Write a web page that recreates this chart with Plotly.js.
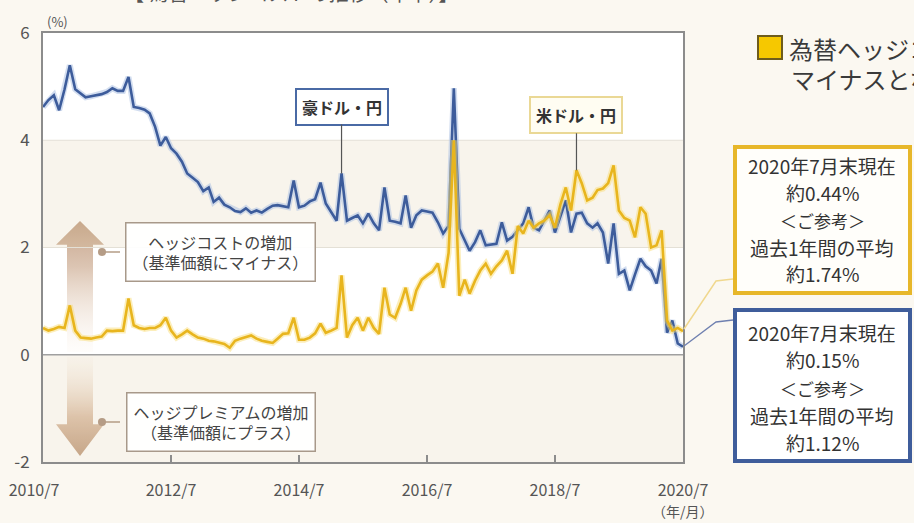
<!DOCTYPE html>
<html>
<head>
<meta charset="utf-8">
<script src="https://cdn.plot.ly/plotly-3.0.1.min.js"></script>
<style>html,body{margin:0;padding:0;background:#fbf8f1;}#chart{width:914px;height:523px;}</style>
</head>
<body>
<div id="chart"></div>
<script>
// ---- data (monthly, 2010/7 - 2020/7, % annualised hedge cost) ----
const startYear = 2010, startMonth = 7, nMonths = 121;
const audJpy = [
4.62,4.75,4.84,4.56,4.95,5.40,4.95,4.88,4.80,4.82,
4.84,4.86,4.90,4.97,4.92,4.92,5.18,4.62,4.60,4.57,
4.50,4.25,3.90,4.06,3.85,3.75,3.60,3.38,3.30,3.22,
3.05,3.12,2.85,2.93,2.80,2.75,2.68,2.66,2.73,2.65,
2.69,2.65,2.72,2.78,2.79,2.77,2.75,3.25,2.75,2.78,
2.86,2.90,3.21,2.82,2.65,2.50,3.38,2.50,2.55,2.60,
2.45,2.63,2.45,2.32,3.12,2.50,2.48,2.45,2.97,2.37,
2.60,2.69,2.67,2.65,2.47,2.26,2.40,4.97,2.35,2.13,
1.94,2.10,2.32,2.04,2.05,2.07,2.47,2.13,2.20,2.32,
2.45,2.75,2.37,2.32,2.50,2.69,2.28,2.60,2.88,2.28,
2.63,2.65,2.45,2.37,2.45,2.28,1.70,2.45,1.51,1.57,
1.20,1.50,1.79,1.65,1.57,1.33,1.79,0.41,0.64,0.21,
0.15];
const usdJpy = [
0.50,0.45,0.48,0.52,0.50,0.92,0.45,0.32,0.31,0.30,
0.32,0.34,0.45,0.44,0.45,0.45,1.05,0.55,0.50,0.48,
0.50,0.50,0.55,0.69,0.45,0.32,0.38,0.45,0.38,0.32,
0.30,0.26,0.25,0.22,0.20,0.13,0.26,0.30,0.33,0.36,
0.30,0.26,0.24,0.22,0.30,0.39,0.40,0.69,0.28,0.28,
0.32,0.40,0.58,0.41,0.45,0.50,1.48,0.32,0.55,0.69,
0.45,0.69,0.50,0.39,1.25,0.75,0.69,0.95,1.25,0.82,
1.20,1.40,1.48,1.55,1.70,1.25,1.90,4.00,1.10,1.40,
1.14,1.38,1.57,1.70,1.51,1.65,1.76,1.94,1.51,2.40,
2.26,2.50,2.37,2.45,2.50,2.60,2.37,2.80,3.12,2.69,
3.44,3.20,2.88,2.93,3.07,3.10,3.20,3.53,2.69,2.55,
2.50,2.19,2.75,2.63,2.00,2.04,2.32,0.64,0.45,0.50,
0.44];
const xTickVals = ['2010-07-01','2012-07-01','2014-07-01','2016-07-01','2018-07-01','2020-07-01'];
const xTickText = ['2010/7\u00a0\u00a0\u00a0\u00a0\u00a0','2012/7','2014/7','2016/7','2018/7','2020/7'];
const yTickVals = [-2,0,2,4,6];
const yTickText = ['-2','0','2','4','6'];
const seriesNames = ['豪ドル・円','米ドル・円'];

// month axis categories
const months = [];
for (let i = 0; i < nMonths; i++) {
  const t = startMonth - 1 + i;
  const y = startYear + Math.floor(t / 12);
  const m = (t % 12) + 1;
  months.push(y + '-' + String(m).padStart(2,'0') + '-01');
}

const FONT = "'Noto Sans CJK JP','Noto Sans',sans-serif";
const BLUE = '#3d5c9b', YEL = '#e8b51e';

const traces = [
  {x: months, y: audJpy, mode:'lines', line:{color:'rgba(175,195,228,0.55)', width:6}, hoverinfo:'skip', showlegend:false},
  {x: months, y: audJpy, mode:'lines', name: seriesNames[0], line:{color:BLUE, width:2.6}, showlegend:false},
  {x: months, y: usdJpy, mode:'lines', line:{color:'rgba(250,222,120,0.5)', width:6}, hoverinfo:'skip', showlegend:false},
  {x: months, y: usdJpy, mode:'lines', name: seriesNames[1], line:{color:YEL, width:2.6}, showlegend:false}
];

// pixel -> paper helpers (plot area 43..683 x 33..462)
const L=43, R=683, T=33, B=462;
const px = v => (v - L) / (R - L);
const py = v => (B - v) / (B - T);

function svgUri(s){ return 'data:image/svg+xml;charset=utf-8,' + encodeURIComponent(s); }
const upArrow = svgUri('<svg xmlns="http://www.w3.org/2000/svg" width="50" height="132" viewBox="0 0 50 132" preserveAspectRatio="none"><defs><linearGradient id="g" x1="0" y1="0" x2="0" y2="1"><stop offset="0" stop-color="#c6a58c"/><stop offset="0.35" stop-color="#dcc5b3"/><stop offset="1" stop-color="#fbf4ec" stop-opacity="0.2"/></linearGradient></defs><polygon points="25,0 49,24 38,24 38,132 12,132 12,24 1,24" fill="url(#g)"/></svg>');
const downArrow = svgUri('<svg xmlns="http://www.w3.org/2000/svg" width="50" height="100" viewBox="0 0 50 100" preserveAspectRatio="none"><defs><linearGradient id="g" x1="0" y1="0" x2="0" y2="1"><stop offset="0" stop-color="#fbf4ec" stop-opacity="0.2"/><stop offset="0.6" stop-color="#dfc5b0"/><stop offset="1" stop-color="#c4a288"/></linearGradient></defs><polygon points="12,0 38,0 38,68 49,68 25,100 1,68 12,68" fill="url(#g)"/></svg>');

const BAND = 'rgba(215,190,140,0.17)';
const shapes = [
  // bands (translucent so the arrows beneath show through)
  {type:'rect', xref:'paper', yref:'y', x0:0, x1:1, y0:2, y1:4, fillcolor:BAND, line:{width:0}, layer:'below'},
  {type:'rect', xref:'paper', yref:'y', x0:0, x1:1, y0:-2, y1:0, fillcolor:BAND, line:{width:0}, layer:'below'},
  {type:'line', xref:'paper', yref:'y', x0:0, x1:1, y0:4, y1:4, line:{color:'#e4e0d6', width:1}, layer:'below'},
  {type:'line', xref:'paper', yref:'y', x0:0, x1:1, y0:2, y1:2, line:{color:'#e4e0d6', width:1}, layer:'below'},
  {type:'line', xref:'paper', yref:'y', x0:0, x1:1, y0:0, y1:0, line:{color:'#a0a0a0', width:1.3}, layer:'below'},
  // dots for explanation boxes
  {type:'circle', xref:'paper', yref:'paper', x0:px(98), x1:px(106), y0:py(256), y1:py(248), fillcolor:'#b59c86', line:{width:0}},
  {type:'line', xref:'paper', yref:'paper', x0:px(104), x1:px(120), y0:py(252), y1:py(252), line:{color:'#b59c86', width:1.5}},
  {type:'circle', xref:'paper', yref:'paper', x0:px(98), x1:px(106), y0:py(426), y1:py(418), fillcolor:'#b59c86', line:{width:0}},
  {type:'line', xref:'paper', yref:'paper', x0:px(104), x1:px(120), y0:py(422), y1:py(422), line:{color:'#b59c86', width:1.5}},
  // right legend square
  {type:'rect', xref:'paper', yref:'paper', x0:px(758), x1:px(782), y0:py(59), y1:py(36), fillcolor:'#f6c800', line:{color:'#6e5c1c', width:2}},
  // right info boxes
  {type:'rect', xref:'paper', yref:'paper', x0:px(735), x1:px(910), y0:py(293), y1:py(147), fillcolor:'#fffefa', line:{color:'#e7b72a', width:4}},
  {type:'rect', xref:'paper', yref:'paper', x0:px(735), x1:px(910), y0:py(461), y1:py(310), fillcolor:'#ffffff', line:{color:'#3f5d9b', width:4}},
  // connectors
  {type:'path', xref:'paper', yref:'paper', path:`M ${px(684)} ${py(329)} L ${px(716)} ${py(281)} L ${px(733)} ${py(279)}`, line:{color:'#f0d88e', width:1.5}},
  {type:'path', xref:'paper', yref:'paper', path:`M ${px(684)} ${py(346)} L ${px(716)} ${py(322)} L ${px(733)} ${py(320)}`, line:{color:'#6f80b0', width:1.3}}
];

const txt = (text, x, y, size, opts) => Object.assign({text, xref:'paper', yref:'paper', x, y, xanchor:'center', yanchor:'middle', showarrow:false, font:{family:FONT, size, color:'#333'}}, opts||{});

const annotations = [
  txt('【 為替ヘッジコストの推移（年率）】', px(122), py(9), 20, {xanchor:'left', yanchor:'bottom', font:{family:FONT,size:20,color:'#555'}}),
  txt('(%)', px(57), py(21), 13, {font:{family:FONT,size:13,color:'#555'}}),
  txt('（年/月）', 1, py(511), 14, {font:{family:FONT,size:14,color:'#555'}}),
  txt('為替ヘッジコストが', px(787), py(48), 24, {xanchor:'left', font:{family:FONT,size:24,color:'#3a3a3a'}}),
  txt('マイナスとなっています', px(789), py(78), 24, {xanchor:'left', font:{family:FONT,size:24,color:'#3a3a3a'}}),
  // yellow box text
  txt('2020年7月末現在', px(822), py(165), 19),
  txt('約0.44%', px(822), py(192), 19),
  txt('＜ご参考＞', px(822), py(220), 17),
  txt('過去1年間の平均', px(822), py(247), 19),
  txt('約1.74%', px(822), py(273), 19),
  // blue box text
  txt('2020年7月末現在', px(822), py(332), 19),
  txt('約0.15%', px(822), py(359), 19),
  txt('＜ご参考＞', px(822), py(388), 17),
  txt('過去1年間の平均', px(822), py(415), 19),
  txt('約1.12%', px(822), py(442), 19),
  // explanation boxes
  txt('ヘッジコストの増加<br>（基準価額にマイナス）', px(220), py(252), 16, {bgcolor:'rgba(255,255,255,0.93)', bordercolor:'#a8998a', borderwidth:1.5, borderpad:6, font:{family:FONT,size:16,color:'#444'}}),
  txt('ヘッジプレミアムの増加<br>（基準価額にプラス）', px(221), py(422), 16, {bgcolor:'rgba(255,255,255,0.93)', bordercolor:'#a8998a', borderwidth:1.5, borderpad:6, font:{family:FONT,size:16,color:'#444'}}),
  // series labels with leaders
  {text:'<b>'+seriesNames[0]+'</b>', x: months[56], y: audJpy[56], xref:'x', yref:'y', showarrow:true, arrowhead:0, arrowwidth:1.2, arrowcolor:'#555', ax:0, ay:-67, standoff:0,
   bgcolor:'#ffffff', bordercolor:'#4a6aa5', borderwidth:2, borderpad:5, font:{family:FONT, size:16, color:'#333'}},
  {text:'<b>'+seriesNames[1]+'</b>', x: months[100], y: usdJpy[100], xref:'x', yref:'y', showarrow:true, arrowhead:0, arrowwidth:1.2, arrowcolor:'#555', ax:0, ay:-55, standoff:0,
   bgcolor:'#fffdf2', bordercolor:'#ead895', borderwidth:2, borderpad:5, font:{family:FONT, size:16, color:'#333'}}
];

const images = [
  {source: upArrow, xref:'paper', yref:'paper', x:px(55), y:py(221), sizex:px(105)-px(55), sizey:py(221)-py(352), xanchor:'left', yanchor:'top', sizing:'stretch', layer:'below'},
  {source: downArrow, xref:'paper', yref:'paper', x:px(55), y:py(357), sizex:px(105)-px(55), sizey:py(357)-py(456), xanchor:'left', yanchor:'top', sizing:'stretch', layer:'below'}
];

const layout = {
  width:914, height:523,
  margin:{l:L, r:914-R, t:T, b:523-B, pad:0},
  paper_bgcolor:'#fbf8f1', plot_bgcolor:'#ffffff',
  font:{family:FONT, color:'#555'},
  showlegend:false,
  hovermode:false,
  xaxis:{type:'date', range:['2010-07-01','2020-07-01'], tickmode:'array', tickvals:xTickVals, ticktext:xTickText,
         ticks:'inside', ticklen:7, tickwidth:1.5, tickcolor:'#8c8c8c', showgrid:false, zeroline:false,
         showline:true, mirror:true, linecolor:'#8c8c8c', linewidth:2, ticklabelstandoff:13,
         tickfont:{family:FONT, size:16, color:'#555'}},
  yaxis:{range:[-2,6], tickmode:'array', tickvals:yTickVals, ticktext:yTickText, ticks:'', showgrid:false, zeroline:false,
         showline:true, mirror:true, linecolor:'#8c8c8c', linewidth:2, ticklabelstandoff:8,
         tickfont:{family:FONT, size:17, color:'#555'}},
  shapes, annotations, images
};

Plotly.newPlot('chart', traces, layout, {displayModeBar:false, staticPlot:true});
</script>
</body>
</html>
